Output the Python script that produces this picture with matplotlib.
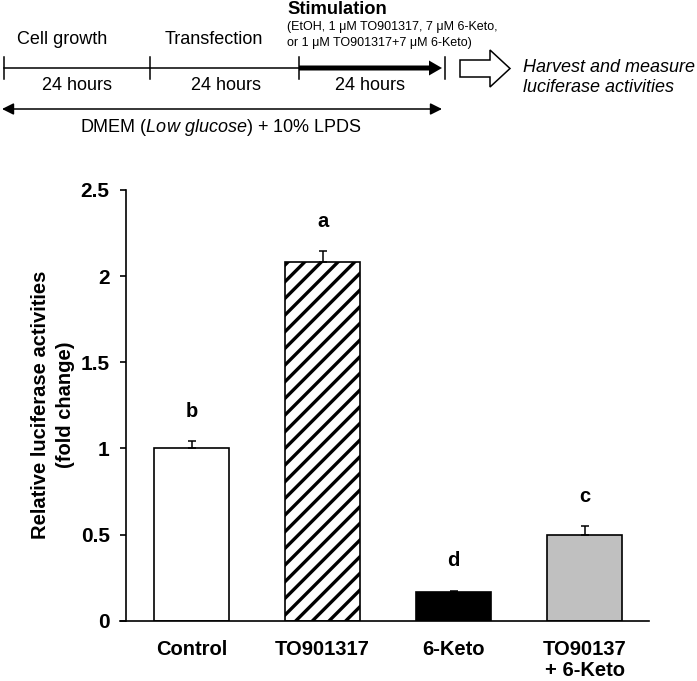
import matplotlib
matplotlib.use("Agg")
import matplotlib.pyplot as plt
from matplotlib.patches import FancyArrow, FancyArrowPatch
from matplotlib.lines import Line2D
import numpy as np

plt.rcParams['font.family'] = ['Liberation Sans', 'DejaVu Sans']
plt.rcParams['mathtext.fontset'] = 'custom'
plt.rcParams['mathtext.rm'] = 'Liberation Sans'
plt.rcParams['mathtext.it'] = 'Liberation Sans:italic'
plt.rcParams['hatch.linewidth'] = 2.4

# ---- data ----
categories = ["Control", "TO901317", "6-Keto", "TO90137\n+ 6-Keto"]
values = [1.00, 2.083, 0.166, 0.499]
errors = [0.042, 0.062, 0.008, 0.050]
letters = ["b", "a", "d", "c"]
yticks = [0, 0.5, 1, 1.5, 2, 2.5]
ytick_labels = ["0", "0.5", "1", "1.5", "2", "2.5"]
face_colors = ["white", "white", "black", "#c0c0c0"]
hatches = [None, "//", None, None]

W, H = 697, 681
fig = plt.figure(figsize=(W / 100, H / 100), dpi=100)

# ---- bar chart ----
ax = fig.add_axes([120 / W, (H - 620.7) / H, (649 - 120) / W, (620.7 - 190) / H])
x = np.arange(len(categories))
bars = ax.bar(x, values, width=0.573, color=face_colors, edgecolor="black",
              linewidth=1.2, zorder=2)
for b, h in zip(bars, hatches):
    if h:
        b.set_hatch(h)
ax.errorbar(x, values, yerr=[np.zeros(len(values)), errors], fmt="none",
            ecolor="black", elinewidth=1.1, capsize=3, capthick=1.1, zorder=3)
for xi, v, e, lab in zip(x, values, errors, letters):
    ax.annotate(lab, xy=(xi, v + e), xytext=(0, 17.5), textcoords="offset points",
                ha="center", va="baseline", fontsize=14.5, fontweight="bold")

ax.set_xlim(-0.546, 3.49)
ax.set_ylim(0, 2.5)
ax.spines["top"].set_visible(False)
ax.spines["right"].set_visible(False)
ax.spines["left"].set_position(("data", -0.5))
ax.spines["left"].set_linewidth(1.2)
ax.spines["bottom"].set_linewidth(1.2)
ax.set_yticks(yticks)
ax.set_yticklabels(ytick_labels, fontsize=15, fontweight="bold")
ax.tick_params(axis="y", direction="out", length=4.3, width=1.2, pad=7.5)
ax.set_xticks(x)
ax.set_xticklabels(categories, fontsize=14.5, fontweight="bold", linespacing=1.15)
ax.tick_params(axis="x", length=0, pad=14)

fig.text(53 / W, (H - 405) / H, "Relative luciferase activities\n(fold change)",
         rotation=90, ha="center", va="center", multialignment="center",
         fontsize=14.5, fontweight="bold", linespacing=1.35)

# ---- protocol diagram (overlay in pixel coordinates) ----
ov = fig.add_axes([0, 0, 1, 1], zorder=5)
ov.set_xlim(0, W)
ov.set_ylim(H, 0)
ov.axis("off")
ov.patch.set_alpha(0)

ty = 68
ov.add_line(Line2D([4, 299], [ty, ty], color="black", lw=1.1))
for tx in [4, 150, 299, 445]:
    ov.add_line(Line2D([tx, tx], [57, 79], color="black", lw=1.1))
ov.add_patch(FancyArrow(299, ty, 143, 0, width=5, head_width=15, head_length=13,
                        length_includes_head=True, color="black", lw=0))
ov.add_patch(FancyArrowPatch((2, 109), (442, 109),
                             arrowstyle="<|-|>,head_length=0.7,head_width=0.35",
                             mutation_scale=10, lw=1.1, color="black",
                             shrinkA=0, shrinkB=0))
ov.add_patch(FancyArrow(460, 68.5, 50, 0, width=17, head_width=37, head_length=20,
                        length_includes_head=True, fc="white", ec="black", lw=1.1))

ov.text(287, 9.5, "Stimulation", fontsize=13.2, fontweight="bold", ha="left", va="center")
ov.text(287, 27, "(EtOH, 1 μM TO901317, 7 μM 6-Keto,", fontsize=9, ha="left", va="center")
ov.text(287, 43, "or 1 μM TO901317+7 μM 6-Keto)", fontsize=9, ha="left", va="center")
ov.text(62, 39, "Cell growth", fontsize=13, ha="center", va="center")
ov.text(214, 39, "Transfection", fontsize=13, ha="center", va="center")
for cx in [77, 226, 370]:
    ov.text(cx, 86, "24 hours", fontsize=13, ha="center", va="center")
ov.text(221, 127, r"DMEM ($\mathit{Low\ glucose}$) + 10% LPDS", fontsize=13,
        ha="center", va="center")
ov.text(523, 68, "Harvest and measure", fontsize=13, style="italic", ha="left", va="center")
ov.text(523, 88, "luciferase activities", fontsize=13, style="italic", ha="left", va="center")

fig.savefig("out.png", dpi=100)
